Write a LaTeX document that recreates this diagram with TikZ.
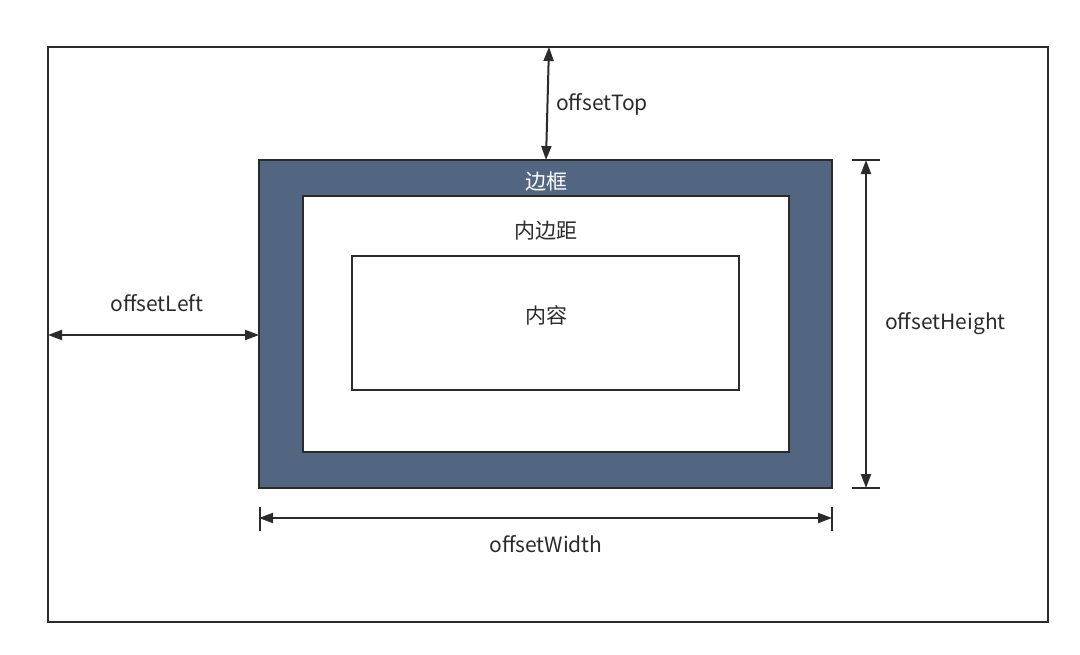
\documentclass[tikz,border=0pt]{standalone}
\usepackage{fontspec}
\setmainfont{Noto Sans CJK SC}
\usetikzlibrary{arrows.meta}
\definecolor{bordercol}{HTML}{536681}
\definecolor{linecol}{HTML}{2B2B2B}
\begin{document}
\begin{tikzpicture}[x=1pt,y=-1pt,
  box/.style={draw=linecol,line width=1.5pt},
  dim/.style={draw=linecol,line width=2pt,{Triangle[length=14pt,width=10pt]}-{Triangle[length=14pt,width=10pt]}},
  tick/.style={draw=linecol,line width=2pt},
  lbl/.style={font=\fontsize{21}{24}\selectfont,text=linecol,inner sep=0pt}]
\useasboundingbox (0,0) rectangle (1080,654);
\draw[box,fill=white] (48,47) rectangle (1048,622);
\draw[box,fill=bordercol] (259,160) rectangle (832,488);
\draw[box,fill=white] (303,196) rectangle (789,452);
\draw[box,fill=white] (352,256) rectangle (739,390);
\coordinate (outerT) at (549,47);
\coordinate (borderT) at (546,160);
\coordinate (outerL) at (48,335);
\coordinate (borderL) at (259,335);
\coordinate (hT) at (866,160);
\coordinate (hB) at (866,488);
\coordinate (wL) at (259,518);
\coordinate (wR) at (832,518);
\node[lbl,text=white] (bk) at (546,182) {边框};
\node[lbl] (nbj) at (546,231) {内边距};
\node[lbl] (nr) at (546,315) {内容};
\draw[dim] (outerT) -- (borderT);
\node[lbl,anchor=west] (ot) at (556,104) {offsetTop};
\draw[dim] (outerL) -- (borderL);
\node[lbl] (ol) at (157,303) {offsetLeft};
\draw[dim] (hT) -- (hB);
\draw[tick] (852,160) -- (880,160);
\draw[tick] (852,488) -- (880,488);
\node[lbl,anchor=west] (oh) at (885,324) {offsetHeight};
\draw[dim] (wL) -- (wR);
\draw[tick] (260,507) -- (260,531);
\draw[tick] (832,507) -- (832,531);
\node[lbl] (ow) at (546,544) {offsetWidth};
\end{tikzpicture}
\end{document}
